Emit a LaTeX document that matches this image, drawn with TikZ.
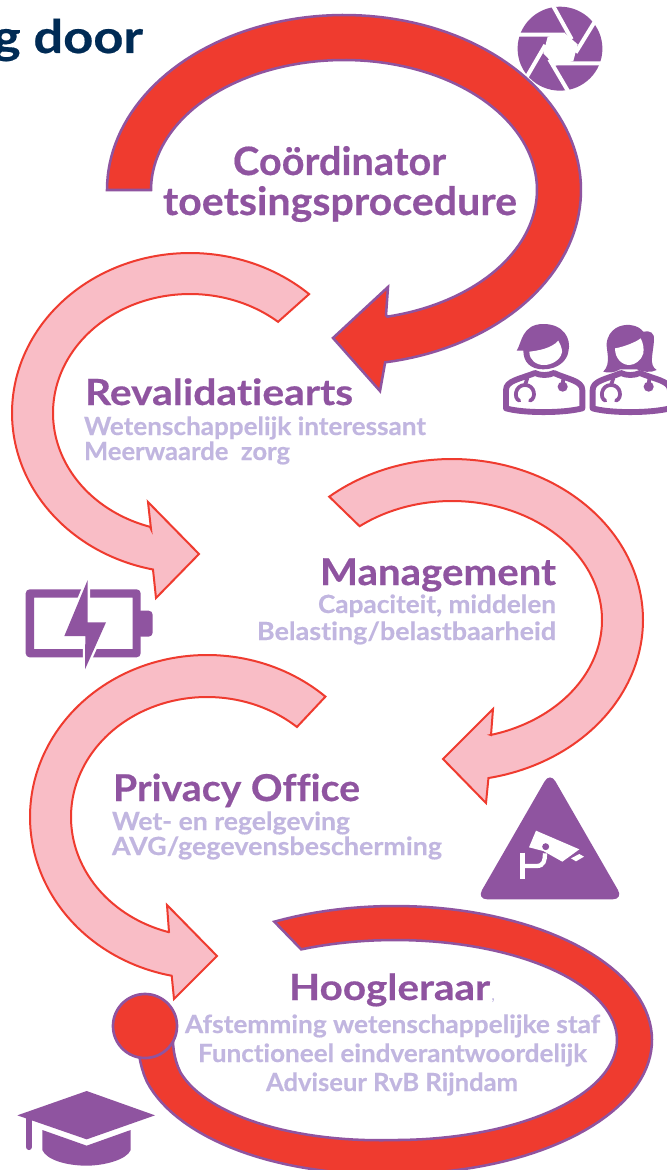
\documentclass[tikz,border=0pt]{standalone}
\usepackage{graphicx}
\usepackage{fontspec}
\setmainfont{Lato}[Ligatures=NoCommon,BoldFeatures={FakeBold=0.4}]
\definecolor{rd}{HTML}{EF3B2F}
\definecolor{prp}{HTML}{8F54A0}
\definecolor{pnk}{HTML}{F9BDC6}
\definecolor{lil}{HTML}{C1B6E0}
\definecolor{nvy}{HTML}{002B55}
\newsavebox{\lblbox}
% name, x0, x1, baseline, font px, colour, text
\newcommand{\lbl}[7]{%
  \node[anchor=base west,inner sep=0pt,outer sep=0pt] (#1) at (#2,#4) {%
    \pgfmathsetmacro{\fs}{#5*0.75}%
    \sbox{\lblbox}{\fontsize{\fs}{\fs}\selectfont\bfseries\color{#6}#7}%
    \dimen0=\wd\lblbox
    \pgfmathsetmacro{\sx}{(#3-(#2))*0.75/\the\dimen0}%
    \scalebox{\sx}[1]{\usebox{\lblbox}}};%
}
\tikzset{
  x=0.75pt,y=-0.75pt,
  pl/.style={samples=120,variable=\t},
  redarrow/.style={draw=prp,fill=rd,line width=1.9pt},
  pinkarrow/.style={draw=rd,fill=pnk,line width=1.5pt},
  icon/.style={x=0.25pt,y=-0.25pt},
  ifill/.style={fill=prp,draw=none},
  wfill/.style={fill=white,draw=none},
}
\begin{document}
\begin{tikzpicture}
\useasboundingbox (0,0) rectangle (667,1170);
\fill[white] (0,0) rectangle (667,1170);
% title fragment
\begin{scope}
\clip (0,0) rectangle (667,1170);
\lbl{title}{-7}{143}{53}{46}{nvy}{g door}
\end{scope}
% aperture icon
\begin{scope}[shift={(510,0)},icon]
\fill[prp] (150,146) ellipse [x radius=31.8pt,y radius=31.5pt];
\draw[white,line width=3pt] (128,15)--(185,118) (256,62)--(197,158) (285,190)--(135,190)
  (178,280)--(118,178) (46,238)--(106,135) (15,104)--(165,104);
\fill[white] (165,100)--(203,133)--(190,183)--(135,197)--(100,160)--(113,110)--cycle;
\end{scope}
% arrow 1
\draw[redarrow] plot[pl,domain=180:440] ({344+237*cos(\t)},{190+175*sin(\t)}) -- (380,391) -- (333,338) -- (388,287) -- (386,315)
  -- plot[pl,domain=437:180] ({344+193*cos(\t)},{190+130*sin(\t)}) -- cycle;
% pink 1
\draw[pinkarrow] plot[pl,domain=-48:-258] ({190+178*cos(\t)},{413+160*sin(\t)}) -- (156,598) -- (199,554) -- (148,502) -- (151,529)
  -- plot[pl,domain=-253:-50] ({190+137*cos(\t)},{413+119*sin(\t)}) -- cycle;
% pink 2
\draw[pinkarrow] plot[pl,domain=-130:79] ({452+191*cos(\t)},{620+161*sin(\t)}) -- (486,803) -- (443,759) -- (493,709) -- (491,735)
  -- plot[pl,domain=75:-128] ({452+150*cos(\t)},{620+119*sin(\t)}) -- cycle;
% pink 3
\draw[pinkarrow] plot[pl,domain=-48:-258.5] ({207+177*cos(\t)},{817+162*sin(\t)}) -- (174,999) -- (217,956) -- (167,905) -- (169,932)
  -- plot[pl,domain=-253.7:-48.6] ({207+136*cos(\t)},{817+120*sin(\t)}) -- cycle;
% ring
\draw[redarrow] plot[pl,domain=-118:180] ({395+257*cos(\t)},{1040+134*sin(\t)+7*max(0,-cos(\t))*min(1,4*max(0,sin(\t)))})
  -- plot[pl,domain=180:-115] ({395+222*cos(\t)},{1040+100*sin(\t)+7*max(0,-cos(\t))*min(1,4*max(0,sin(\t)))}) -- cycle;
\node[circle,draw=prp,fill=rd,line width=2pt,minimum size=48pt,inner sep=0pt] (dot) at (145,1026) {};
% doctors
\begin{scope}[shift={(480,310)},icon]
\fill[ifill] (110,122) .. controls (125,100) and (125,42) .. (190,42) .. controls (250,42) and (275,85) .. (265,125)
  .. controls (262,150) and (235,178) .. (190,178) .. controls (150,178) and (130,155) .. (130,122) -- cycle;
\fill[wfill] (148,125) .. controls (175,122) and (215,115) .. (235,92) .. controls (245,110) and (248,125) .. (245,130)
  .. controls (240,150) and (215,165) .. (192,165) .. controls (168,165) and (148,150) .. (148,125) -- cycle;
\draw[prp,line width=4.4pt,line join=round] (78,240) .. controls (78,212) and (120,207) .. (165,189)
  .. controls (180,197) and (205,197) .. (222,189) .. controls (260,207) and (307,212) .. (307,240) -- (307,295)
  .. controls (250,310) and (130,310) .. (78,295) -- cycle;
\draw[prp,line width=2.8pt,line cap=round] (118,272) .. controls (100,265) and (105,225) .. (135,225)
  .. controls (165,225) and (170,265) .. (150,272) (135,225) -- (142,205) (250,205) -- (248,225);
\fill[prp] (248,230) circle (3.8pt);
% female
\fill[ifill] (370,185) .. controls (395,160) and (378,120) .. (380,100) .. controls (385,55) and (425,42) .. (450,45)
  .. controls (470,47) and (482,55) .. (490,65) .. controls (510,60) and (525,70) .. (522,90)
  .. controls (520,130) and (505,165) .. (530,180) .. controls (510,190) and (490,185) .. (470,178) -- (420,178)
  .. controls (405,188) and (385,190) .. (370,185) -- cycle;
\fill[wfill] (405,115) .. controls (435,110) and (470,95) .. (482,85) .. controls (490,100) and (492,115) .. (490,130)
  .. controls (485,150) and (465,165) .. (448,165) .. controls (425,165) and (405,145) .. (405,115) -- cycle;
\draw[prp,line width=4.4pt,line join=round] (338,240) .. controls (338,212) and (380,207) .. (423,189)
  .. controls (438,197) and (463,197) .. (480,189) .. controls (520,207) and (570,212) .. (570,240) -- (570,295)
  .. controls (510,310) and (390,310) .. (338,295) -- cycle;
\draw[prp,line width=2.8pt,line cap=round] (376,272) .. controls (358,265) and (363,225) .. (393,225)
  .. controls (423,225) and (428,265) .. (408,272) (393,225) -- (400,205) (508,205) -- (506,225);
\fill[prp] (506,230) circle (3.8pt);
\end{scope}
% battery
\begin{scope}[shift={(0,560)},icon]
\fill[prp,rounded corners=3pt,even odd rule] (77,88) rectangle (422,292) [sharp corners] (102,113) rectangle (398,267);
\fill[prp,rounded corners=3pt] (410,152) -- (458,152) -- (458,230) -- (410,230) -- cycle;
\draw[white,fill=white,line width=3.5pt,line join=miter] (263,60) -- (193,228) -- (256,228) -- (255,328) -- (318,187) -- (263,187) -- cycle;
\fill[prp] (263,60) -- (193,228) -- (256,228) -- (255,328) -- (318,187) -- (263,187) -- cycle;
\end{scope}
% camera triangle
\begin{scope}[shift={(470,770)},icon]
\fill[prp,rounded corners=8pt] (240,6) -- (20,388) -- (460,388) -- cycle;
\fill[white] (198,182) -- (328,238) -- (277,275) -- (220,243) -- (177,232) -- cycle;
\fill[prp] (227,230) circle (2.6pt);
\fill[white] (303,265) -- (328,252) -- (342,260) -- (318,274) -- cycle;
\draw[white,line width=3.6pt] (157,248) -- (157,328);
\draw[white,line width=3.2pt] (157,288) -- (200,288) .. controls (222,288) and (225,270) .. (225,250);
\end{scope}
% graduation cap
\begin{scope}[shift={(0,980)},icon]
\fill[prp] (52,406) -- (260,333) -- (465,406) -- (260,478) -- cycle;
\fill[prp] (127,450) -- (260,497) -- (392,450) -- (392,510) .. controls (380,540) and (310,557) .. (260,557)
  .. controls (200,557) and (140,540) .. (127,510) -- cycle;
\draw[prp,line width=4.6pt,line cap=round] (87,412) -- (87,501);
\end{scope}
% texts
\lbl{t1a}{233}{446}{175}{39}{prp}{Coördinator}
\lbl{t1b}{163}{517}{215}{39}{prp}{toetsingsprocedure}
\lbl{t2}{85}{353}{405}{36}{prp}{Revalidatiearts}
\lbl{t2a}{84}{426}{435}{25}{lil}{Wetenschappelijk interessant}
\lbl{t2b}{84}{290}{460}{25}{lil}{Meerwaarde\ \ zorg}
\lbl{t3}{320}{556}{585}{37}{prp}{Management}
\lbl{t3a}{318}{556}{613}{25}{lil}{Capaciteit, middelen}
\lbl{t3b}{257}{556}{640}{25}{lil}{Belasting/belastbaarheid}
\lbl{t4}{113}{360}{801}{37}{prp}{Privacy Office}
\lbl{t4a}{112}{350}{830}{25}{lil}{Wet- en regelgeving}
\lbl{t4b}{112}{442}{855}{25}{lil}{AVG/gegevensbescherming}
\lbl{t5}{289}{490}{1000}{36}{prp}{Hoogleraar}
\node[anchor=base west,inner sep=0pt,text=lil,font=\fontsize{12}{14}\selectfont] (t5c) at (491,1000) {,};
\lbl{t5a}{185}{600}{1033}{25}{lil}{Afstemming wetenschappelijke staf}
\lbl{t5b}{198}{587}{1062}{25}{lil}{Functioneel eindverantwoordelijk}
\lbl{t5d}{266}{518}{1091}{25}{lil}{Adviseur RvB Rijndam}
\end{tikzpicture}
\end{document}
